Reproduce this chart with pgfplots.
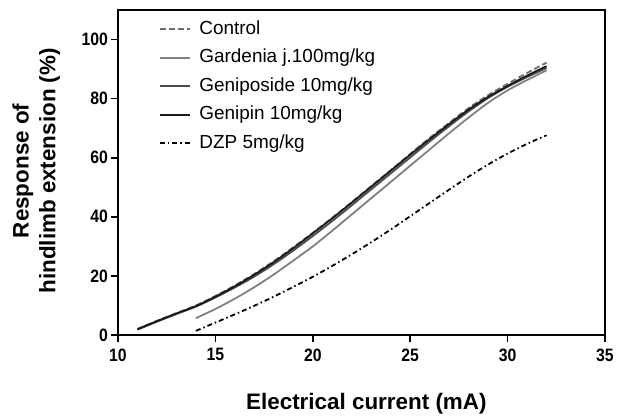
\documentclass[border=0pt]{standalone}
\usepackage{fontspec}
\setmainfont{Liberation Sans}
\usepackage{pgfplots}
\pgfplotsset{compat=1.18}

\definecolor{ctrl}{HTML}{6E6E6E}
\definecolor{gard}{HTML}{808080}
\definecolor{genipo}{HTML}{4A4A4A}
\definecolor{genipin}{HTML}{1A1A1A}

\begin{document}
\begin{tikzpicture}
\begin{axis}[
    scale only axis,
    width=487bp, height=325bp,
    xmin=10, xmax=35,
    ymin=0, ymax=110,
    xtick={10,15,20,25,30,35},
    ytick={0,20,40,60,80,100},
    xtick pos=bottom, ytick pos=left,
    tick align=outside,
    major tick length=7bp,
    axis line style={line width=1.6pt},
    every tick/.style={line width=1.6pt, black},
    /pgf/number format/assume math mode=true,
    ticklabel style={font=\fontsize{18}{19}\selectfont\bfseries, xscale=0.88},
    xticklabel style={yshift=-3bp},
    yticklabel style={xshift=0bp},
    xlabel={Electrical current (mA)},
    ylabel={Response of\\hindlimb extension (\%)},
    label style={font=\fontsize{22.5}{27}\selectfont\bfseries, align=center},
    xlabel style={at={(axis description cs:0.51,-0.21)}, anchor=center},
    ylabel style={at={(axis description cs:-0.168,0.505)}, anchor=center},
    legend cell align=left,
    legend style={draw=none, fill=none, at={(0.083,0.975)}, anchor=north west,
        font=\fontsize{19}{21}\selectfont, inner sep=0pt, row sep=6.5bp,
        nodes={inner sep=2bp, text height=14bp, text depth=4bp},
        /tikz/every odd column/.append style={column sep=7bp}},
    legend image code/.code={\draw[#1] (0bp,0bp) -- (30bp,0bp);},
]
\coordinate (o) at (rel axis cs:0,0);

% Control
\addplot[ctrl, line width=1.8pt, dash pattern=on 6bp off 3bp, smooth] coordinates {
(11,2.0)(12,4.8)(13,7.4)(14,10.0)(15,13.2)(16,16.8)(17,20.7)(18,25.0)(19,29.7)
(20,34.6)(21,39.7)(22,45.0)(23,50.4)(24,55.8)(25,61.3)(26,66.7)(27,71.8)
(28,76.8)(29,81.2)(30,85.0)(31,88.7)(32,92.2)};
\addlegendentry{Control}

% Gardenia
\addplot[gard, line width=1.8pt, smooth] coordinates {
(14,5.7)(15,8.8)(16,12.3)(17,16.2)(18,20.5)(19,25.2)(20,30.0)(21,35.3)
(22,40.8)(23,46.3)(24,51.8)(25,57.3)(26,62.8)(27,68.3)(28,73.6)(29,78.6)
(30,82.8)(31,86.3)(32,89.6)};
\addlegendentry{Gardenia j.100mg/kg}

% Geniposide
\addplot[genipo, line width=1.8pt, smooth] coordinates {
(11,1.8)(12,4.5)(13,7.1)(14,9.6)(15,12.7)(16,16.1)(17,19.8)(18,24.0)(19,28.6)
(20,33.5)(21,38.6)(22,43.9)(23,49.3)(24,54.7)(25,60.1)(26,65.5)(27,70.7)
(28,75.7)(29,80.2)(30,84.0)(31,87.3)(32,90.4)};
\addlegendentry{Geniposide 10mg/kg}

% Genipin
\addplot[genipin, line width=1.8pt, smooth] coordinates {
(11,2.0)(12,4.7)(13,7.3)(14,9.8)(15,13.0)(16,16.5)(17,20.4)(18,24.7)(19,29.4)
(20,34.4)(21,39.5)(22,44.8)(23,50.2)(24,55.6)(25,61.0)(26,66.3)(27,71.4)
(28,76.3)(29,80.6)(30,84.3)(31,87.8)(32,91.0)};
\addlegendentry{Genipin 10mg/kg}

% DZP
\addplot[black, line width=1.8pt, dash pattern=on 5bp off 3bp on 1.5bp off 3bp, smooth] coordinates {
(14,1.4)(15,4.2)(16,7.0)(17,9.9)(18,13.0)(19,16.3)(20,19.7)(21,23.4)
(22,27.3)(23,31.4)(24,35.7)(25,40.2)(26,44.7)(27,49.2)(28,53.6)(29,57.7)
(30,61.4)(31,64.7)(32,67.6)};
\addlegendentry{DZP 5mg/kg}
\end{axis}
\pgfresetboundingbox
\path (o) ++(-118bp,-81bp) rectangle ++(629bp,416bp);
\end{tikzpicture}
\end{document}
